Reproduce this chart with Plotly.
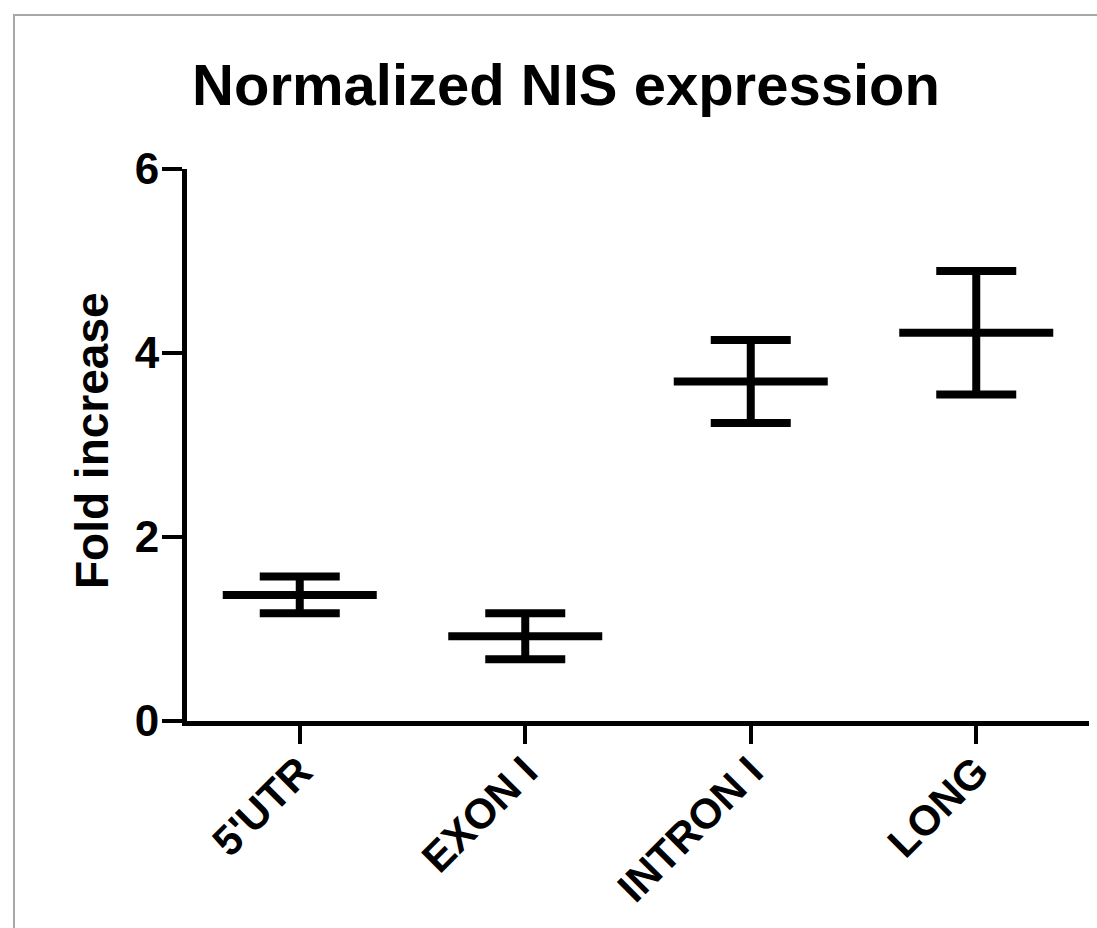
import plotly.graph_objects as go

# ---- data ----
categories = ["5'UTR", "EXON I", "INTRON I", "LONG"]
mean_values = [1.37, 0.92, 3.69, 4.22]
err_upper = [0.20, 0.25, 0.45, 0.67]
err_lower = [0.20, 0.25, 0.45, 0.67]
y_ticks = [0, 2, 4, 6]

FONT = "Liberation Sans, Arial, sans-serif"
W, H = 1097, 928
L, R, T, B = 187, 8, 169, 207

fig = go.Figure()
fig.add_trace(go.Scatter(
    x=categories, y=mean_values, mode="markers",
    marker=dict(symbol="line-ew", size=110, color="black",
                line=dict(width=8, color="black")),
    error_y=dict(type="data", symmetric=False, array=err_upper,
                 arrayminus=err_lower, color="black", thickness=8, width=40),
    showlegend=False, hoverinfo="skip", cliponaxis=False,
))

plot_w = W - L - R
plot_h = H - T - B

fig.update_layout(
    width=W, height=H,
    margin=dict(l=L, r=R, t=T, b=B, pad=0, autoexpand=False),
    paper_bgcolor="white", plot_bgcolor="white",
    font=dict(family=FONT, color="black"),
    title=dict(text="Normalized NIS expression", x=566 / W, xanchor="center",
               xref="container", yref="container", y=1 - 85 / H, yanchor="middle",
               font=dict(size=58, family=FONT, weight="bold", color="black")),
    xaxis=dict(range=[-0.5, 3.5], type="category", showgrid=False, zeroline=False,
               automargin=False,
               showline=True, linecolor="black", linewidth=5,
               ticks="outside", ticklen=18, tickwidth=4, tickcolor="black",
               ticklabelstandoff=-14,
               tickangle=-45, tickfont=dict(size=42, family=FONT, weight="bold")),
    yaxis=dict(range=[0, 6], tickvals=y_ticks, showgrid=False, zeroline=False,
               automargin=False,
               showline=True, linecolor="black", linewidth=5,
               ticks="outside", ticklen=20, tickwidth=4, tickcolor="black",
               ticklabelstandoff=-6,
               tickfont=dict(size=44, family=FONT, weight="bold")),
    annotations=[dict(text="Fold increase", textangle=-90, showarrow=False,
                      xref="paper", yref="paper",
                      x=(92 - L) / plot_w, y=(H - B - 441) / plot_h,
                      xanchor="center", yanchor="middle",
                      font=dict(size=46, family=FONT, weight="bold", color="black"))],
    shapes=[dict(type="rect", xref="paper", yref="paper",
                 x0=(14 - L) / plot_w, x1=2.0,
                 y0=-2.0, y1=(H - B - 15) / plot_h,
                 line=dict(color="#a8a8a8", width=2), layer="below")],
)

fig.write_html("out.html")
